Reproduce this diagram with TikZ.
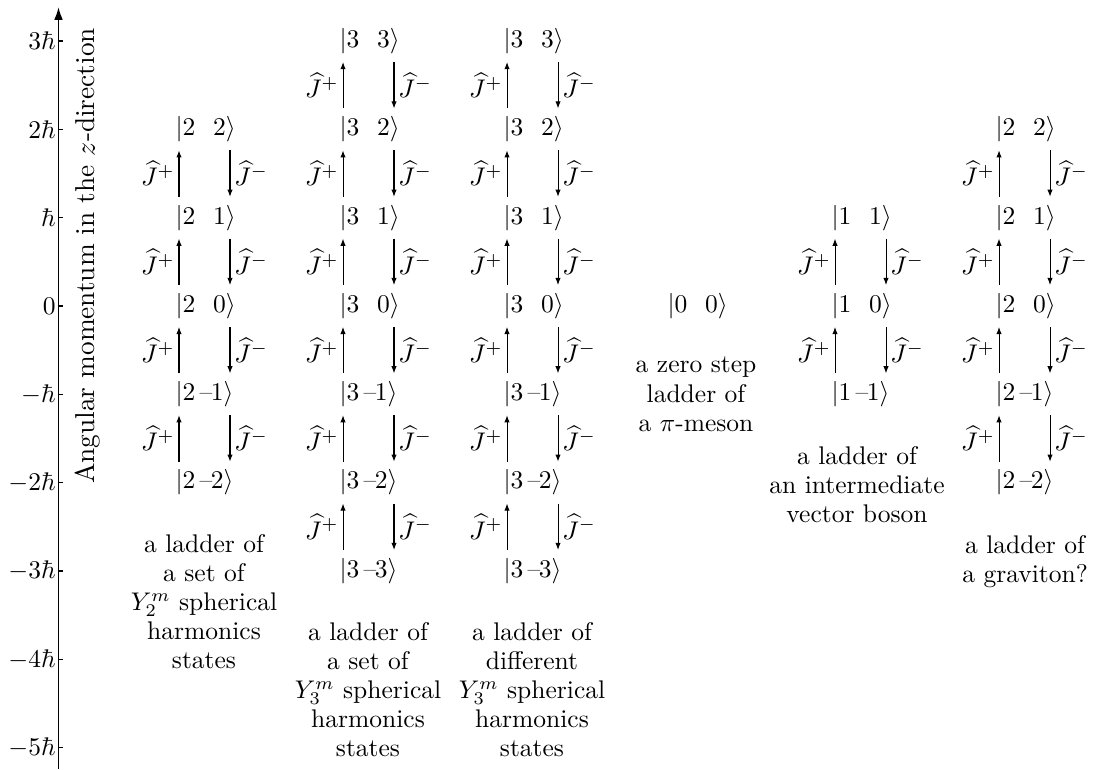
\documentclass[tikz,border=0pt]{standalone}
\usetikzlibrary{arrows.meta}
\newcommand\kpos[2]{$|#1\hspace{7pt}#2\rangle$}
\newcommand\kneg[2]{$|#1\mkern3mu\mbox{--}\mkern-1mu#2\rangle$}
\tikzset{
  ket/.style={anchor=west, inner xsep=0pt, inner ysep=3pt},
  lad/.style={-{Latex[length=2.8pt,width=2.1pt]}, line width=0.4pt},
  opl/.style={left, inner sep=1.5pt},
  opr/.style={right, inner sep=1.5pt},
  ladcap/.style={anchor=north, align=center, inner sep=0pt, font=\fontsize{10}{11.4}\selectfont},
  axisline/.style={-{Latex[length=5pt,width=3.4pt]}, line width=0.7pt},
  tickmark/.style={line width=0.5pt},
  ticklabel/.style={anchor=east, inner sep=0.5pt},
}
\begin{document}
\begin{tikzpicture}[x=0.392pt,y=-0.392pt]
\useasboundingbox (0,0) rectangle (1094,769);
\coordinate (axbot) at (58.5,769);
\coordinate (axtop) at (58.5,7);
\draw[axisline] (axbot) -- (axtop);
\foreach \m/\lab in {3/3\hbar, 2/2\hbar, 1/\hbar, 0/0, -1/-\hbar, -2/-2\hbar, -3/-3\hbar, -4/-4\hbar, -5/-5\hbar} {
  \pgfmathsetmacro\yy{306-88.3*\m}
  \draw[tickmark] (57.5,\yy) -- (63,\yy);
  \node[ticklabel] (tl\m) at (57.5,\yy) {$\lab$};
}
\node[rotate=90, font=\fontsize{10.7}{13}\selectfont] (axlab) at (88,256) {Angular momentum in the $z$-direction};
\foreach \c/\xu/\j in {1/179/2, 2/343/3, 3/507/3, 4/671/0, 5/835/1, 6/999/2} {
  \pgfmathtruncatemacro\nn{2*\j}
  \foreach \i in {0,...,\nn} {
    \pgfmathtruncatemacro\mm{\j-\i}
    \pgfmathtruncatemacro\am{abs(\mm)}
    \pgfmathsetmacro\yy{306-88.3*\mm}
    \ifnum\mm<0
      \node[ket] (k\c-\i) at (\xu-4,\yy) {\kneg{\j}{\am}};
    \else
      \node[ket] (k\c-\i) at (\xu-4,\yy) {\kpos{\j}{\mm}};
    \fi
  }
  \ifnum\j>0
    \foreach \i in {1,...,\nn} {
      \pgfmathtruncatemacro\ip{\i-1}
      \draw[lad] ([xshift=1.57pt]k\c-\i.north west) -- ([xshift=1.57pt]k\c-\ip.south west) node[midway,opl] {$\widehat{J}^+$};
      \draw[lad] ([xshift=21.56pt]k\c-\ip.south west) -- ([xshift=21.56pt]k\c-\i.north west) node[midway,opr] {$\widehat{J}^-$};
    }
  \fi
}
\node[ladcap] (cap1) at (204,533.6) {\rule{0pt}{7pt}a ladder of\\ a set of\\ $Y_2^m$ spherical\\ harmonics\\ states};
\node[ladcap] (cap2) at (368,621.6) {\rule{0pt}{7pt}a ladder of\\ a set of\\ $Y_3^m$ spherical\\ harmonics\\ states};
\node[ladcap] (cap3) at (532,621.6) {\rule{0pt}{7pt}a ladder of\\ different\\ $Y_3^m$ spherical\\ harmonics\\ states};
\node[ladcap] (cap4) at (696,354.6) {\rule{0pt}{7pt}a zero step\\ ladder of\\ a $\pi$-meson};
\node[ladcap] (cap5) at (857,445.6) {\rule{0pt}{7pt}a ladder of\\ an intermediate\\ vector boson};
\node[ladcap] (cap6) at (1025,534.6) {\rule{0pt}{7pt}a ladder of\\ a graviton?};
\end{tikzpicture}
\end{document}
